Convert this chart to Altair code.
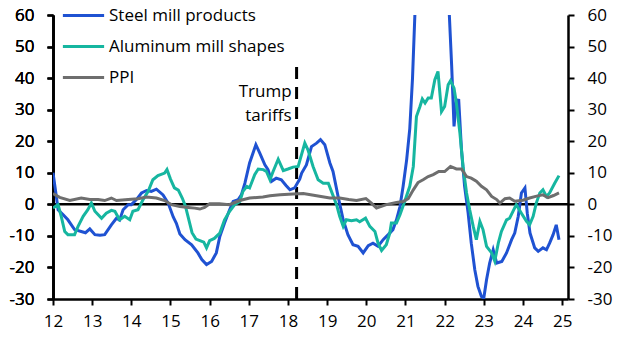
import altair as alt
import pandas as pd

# ---------------- data ----------------
series_names = ["Steel mill products", "Aluminum mill shapes", "PPI"]
series_colors = ["#1f52d2", "#16b6a0", "#6e6e6e"]

steel_x = [2012.00, 2012.08, 2012.13, 2012.26, 2012.38, 2012.55, 2012.72, 2012.83, 2012.94, 2013.07,
           2013.20, 2013.32, 2013.49, 2013.62, 2013.70, 2013.79, 2013.92, 2014.00, 2014.13, 2014.26,
           2014.39, 2014.51, 2014.64, 2014.81, 2014.94, 2015.07, 2015.15, 2015.24, 2015.37, 2015.54,
           2015.70, 2015.80, 2015.92, 2016.05, 2016.17, 2016.26, 2016.38, 2016.51, 2016.60, 2016.73,
           2016.81, 2016.90, 2017.02, 2017.18, 2017.28, 2017.41, 2017.49, 2017.58, 2017.70, 2017.83,
           2017.95, 2018.05, 2018.17, 2018.30, 2018.35, 2018.47, 2018.60, 2018.73, 2018.83, 2018.94,
           2019.07, 2019.15, 2019.28, 2019.41, 2019.53, 2019.66, 2019.79, 2019.92, 2020.05, 2020.17,
           2020.30, 2020.43, 2020.56, 2020.68, 2020.77, 2020.86, 2020.94, 2021.03, 2021.11, 2021.18,
           2021.24, 2021.35, 2021.50, 2021.65, 2021.80, 2021.95, 2022.05, 2022.12, 2022.18, 2022.24,
           2022.30, 2022.36, 2022.43, 2022.51, 2022.60, 2022.68, 2022.77, 2022.85, 2022.94, 2023.00,
           2023.07, 2023.15, 2023.24, 2023.33, 2023.46, 2023.58, 2023.71, 2023.79, 2023.88, 2023.96,
           2024.05, 2024.11, 2024.18, 2024.30, 2024.39, 2024.51, 2024.60, 2024.68, 2024.77, 2024.85,
           2024.92]
steel_y = [10.0, 3.0, -1.7, -3.3, -4.9, -8.0, -8.6, -9.0, -7.8, -9.6,
           -9.8, -9.6, -6.5, -4.4, -5.0, -1.7, -0.1, -0.1, 1.5, 3.6,
           4.4, 4.1, 4.8, 3.0, 0.4, -4.0, -6.0, -9.4, -11.2, -12.8,
           -15.4, -17.5, -19.1, -18.1, -15.4, -10.2, -5.9, -1.7, 0.9, 1.5,
           3.0, 6.7, 13.1, 18.9, 16.2, 12.5, 11.0, 7.3, 8.3, 7.8,
           6.0, 4.6, 5.2, 8.0, 9.9, 12.5, 18.3, 19.4, 20.5, 18.9,
           13.1, 10.4, 2.5, -4.9, -9.6, -12.8, -13.3, -15.4, -13.1, -12.3,
           -13.3, -11.2, -9.6, -8.0, -4.9, -0.7, 5.7, 14.1, 24.0, 40.0,
           60.0, 85.0, 110.0, 122.0, 115.0, 95.0, 75.0, 60.0, 43.7, 24.7,
           33.1, 33.0, 17.3, 5.7, -2.8, -12.3, -20.7, -26.0, -29.2, -29.7,
           -23.9, -18.6, -14.4, -18.6, -18.1, -15.4, -11.2, -9.1, -3.8, 3.6,
           5.2, -2.8, -9.1, -13.8, -14.9, -13.8, -14.4, -12.3, -9.6, -6.5,
           -11.2]

alu_x = [2012.00, 2012.13, 2012.21, 2012.30, 2012.38, 2012.55, 2012.64, 2012.77, 2012.89, 2012.98,
         2013.07, 2013.24, 2013.36, 2013.49, 2013.58, 2013.70, 2013.83, 2013.96, 2014.04, 2014.17,
         2014.30, 2014.43, 2014.55, 2014.68, 2014.85, 2014.91, 2015.00, 2015.10, 2015.20, 2015.30,
         2015.38, 2015.45, 2015.55, 2015.65, 2015.75, 2015.85, 2015.92, 2016.00, 2016.12, 2016.26,
         2016.38, 2016.51, 2016.64, 2016.77, 2016.85, 2016.95, 2017.02, 2017.15, 2017.24, 2017.37,
         2017.45, 2017.54, 2017.62, 2017.75, 2017.88, 2018.00, 2018.13, 2018.26, 2018.43, 2018.51,
         2018.64, 2018.77, 2018.90, 2019.03, 2019.11, 2019.24, 2019.32, 2019.41, 2019.49, 2019.62,
         2019.75, 2019.83, 2019.98, 2020.09, 2020.22, 2020.30, 2020.39, 2020.51, 2020.60, 2020.64,
         2020.77, 2020.86, 2020.98, 2021.11, 2021.20, 2021.28, 2021.37, 2021.43, 2021.50, 2021.58,
         2021.66, 2021.75, 2021.83, 2021.92, 2022.00, 2022.09, 2022.15, 2022.24, 2022.30, 2022.39,
         2022.47, 2022.56, 2022.64, 2022.73, 2022.81, 2022.90, 2022.98, 2023.07, 2023.20, 2023.28,
         2023.37, 2023.45, 2023.58, 2023.66, 2023.83, 2023.96, 2024.09, 2024.17, 2024.26, 2024.34,
         2024.43, 2024.51, 2024.60, 2024.68, 2024.81, 2024.92]
alu_y = [-1.2, -0.1, -3.8, -8.6, -9.6, -9.6, -7.0, -3.8, -1.7, 0.4,
         -2.2, -4.4, -2.8, -1.9, -2.2, -4.9, -3.8, -4.9, -2.2, -1.7,
         1.5, 4.1, 7.8, 9.1, 9.9, 11.0, 8.0, 5.2, 4.5, 2.0,
         -0.5, -4.0, -9.0, -11.0, -11.5, -12.0, -13.8, -11.5, -10.8, -9.1,
         -4.9, -2.2, -0.1, 0.9, 4.1, 5.7, 5.2, 9.4, 11.2, 11.0,
         10.4, 7.8, 10.4, 14.3, 10.7, 11.2, 11.8, 12.0, 19.4, 17.3,
         12.0, 7.8, 6.7, 6.7, 4.1, -0.1, -3.8, -7.0, -4.9, -5.2,
         -4.9, -5.5, -4.4, -7.0, -8.6, -12.3, -14.6, -12.8, -9.1, -5.9,
         -5.9, -3.3, 0.9, 5.7, 12.0, 27.8, 31.0, 33.4, 32.1, 33.7,
         33.7, 39.5, 42.1, 29.4, 31.0, 37.9, 39.2, 36.8, 32.1, 22.6,
         12.0, 3.6, -1.7, -7.0, -11.2, -5.4, -8.0, -13.3, -15.4, -18.0,
         -12.3, -8.6, -4.9, -4.4, -0.1, -2.8, -5.4, -6.5, -3.8, 0.4,
         3.6, 4.6, 2.5, 3.6, 6.7, 9.1]

ppi_x = [2012.00, 2012.17, 2012.43, 2012.72, 2012.94, 2013.15, 2013.32, 2013.49, 2013.62, 2013.92,
         2014.17, 2014.39, 2014.64, 2014.85, 2015.02, 2015.24, 2015.45, 2015.62, 2015.75, 2015.87,
         2016.00, 2016.25, 2016.50, 2016.77, 2017.02, 2017.36, 2017.54, 2017.80, 2018.13, 2018.39,
         2018.73, 2019.07, 2019.32, 2019.55, 2019.75, 2019.99, 2020.13, 2020.26, 2020.51, 2020.77,
         2020.94, 2021.07, 2021.20, 2021.32, 2021.45, 2021.58, 2021.71, 2021.85, 2022.00, 2022.15,
         2022.30, 2022.43, 2022.56, 2022.68, 2022.81, 2022.94, 2023.07, 2023.20, 2023.33, 2023.41,
         2023.54, 2023.66, 2023.79, 2024.00, 2024.17, 2024.35, 2024.51, 2024.64, 2024.78, 2024.92]
ppi_y = [3.4, 2.2, 1.2, 2.0, 1.5, 1.5, 1.2, 2.0, 1.2, 1.5,
         1.8, 2.3, 2.0, 1.2, -0.1, -0.7, -1.0, -1.2, -1.5, -1.0,
         0.2, 0.2, -0.1, 1.2, 2.0, 2.3, 2.7, 3.0, 3.3, 3.4,
         2.7, 2.0, 2.0, 1.5, 1.2, 1.8, 0.4, -1.2, -0.1, 0.6,
         0.9, 1.8, 4.6, 6.9, 7.8, 8.8, 9.4, 10.4, 10.4, 12.0,
         11.2, 11.2, 8.8, 8.3, 7.3, 5.7, 4.6, 2.5, 1.5, 0.4,
         1.8, 2.0, 1.0, 1.3, 2.0, 2.6, 3.0, 2.1, 2.8, 3.6]

y_ticks = [-30, -20, -10, 0, 10, 20, 30, 40, 50, 60]
x_ticks = list(range(2012, 2026))
tariff_x = [2018.22]
tariff_y_top = [43.6]
tariff_label = ["Trump\ntariffs"]
tariff_label_y = [38.2]

# ---------------- frames ----------------
frames = []
for name, xs, ys in zip(series_names, [steel_x, alu_x, ppi_x], [steel_y, alu_y, ppi_y]):
    frames.append(pd.DataFrame({"year": xs, "value": ys, "series": name}))
lines_df = pd.concat(frames, ignore_index=True)

FONT = "Open Sans"
FS = 17
x_scale = alt.Scale(domain=[2012, 2025.15], nice=False, zero=False)
y_scale = alt.Scale(domain=[-30, 60], nice=False, zero=False)

minus_expr = "datum.value < 0 ? '-' + abs(datum.value) : '' + datum.value"

def y_axis(orient):
    return alt.Axis(orient=orient, values=y_ticks, labelExpr=minus_expr, title=None,
                    grid=False, domain=True, domainColor="black", domainWidth=2.5,
                    ticks=True, tickColor="black", tickWidth=2, tickSize=6,
                    labelFont=FONT, labelFontSize=FS, labelColor="black",
                    labelPadding=13)

x_axis = alt.Axis(values=x_ticks, labelExpr="substring(toString(datum.value), 2)",
                  title=None, grid=False, domain=True, domainColor="black", domainWidth=2.5,
                  ticks=True, tickColor="black", tickWidth=2, tickSize=6,
                  labelFont=FONT, labelFontSize=FS, labelColor="black", labelPadding=8,
                  labelFlush=False)

zero_df = pd.DataFrame({"v": [0]})
zero = alt.Chart(zero_df).mark_rule(color="black", strokeWidth=2.5).encode(
    y=alt.Y("v:Q", scale=y_scale, axis=y_axis("right")))

tariff_df = pd.DataFrame({"x": tariff_x, "y0": [-30], "y1": tariff_y_top,
                          "label": tariff_label, "ly": tariff_label_y})
dash = alt.Chart(tariff_df).mark_rule(color="black", strokeWidth=3, strokeDash=[12, 8]).encode(
    x=alt.X("x:Q", scale=x_scale, axis=x_axis),
    y=alt.Y("y0:Q", scale=y_scale, axis=y_axis("left")),
    y2="y1:Q")

label = alt.Chart(tariff_df).mark_text(align="right", baseline="top", dx=-5, lineBreak="\n",
                                       lineHeight=24, font=FONT, fontSize=FS, color="black").encode(
    x=alt.X("x:Q", scale=x_scale, axis=x_axis),
    y=alt.Y("ly:Q", scale=y_scale, axis=y_axis("left")),
    text="label:N")

lines = alt.Chart(lines_df).mark_line(strokeWidth=3, clip=True).encode(
    x=alt.X("year:Q", scale=x_scale, axis=x_axis),
    y=alt.Y("value:Q", scale=y_scale, axis=y_axis("left")),
    color=alt.Color("series:N", scale=alt.Scale(domain=series_names, range=series_colors),
                    legend=alt.Legend(title=None, orient="none", legendX=8, legendY=-22,
                                      symbolType="stroke", symbolSize=1700, symbolStrokeWidth=3,
                                      labelFont=FONT, labelFontSize=FS, labelColor="black",
                                      labelOffset=3, rowPadding=-12, labelLimit=0)),
    order=alt.Order("year:Q"))

chart = alt.layer(zero, dash, label, lines).resolve_axis(y="independent").properties(
    width=515, height=284,
    autosize=alt.AutoSizeParams(type="none"),
    padding={"left": 53, "top": 15, "right": 60, "bottom": 54},
    background="white",
).configure_view(stroke=None)

chart.save("out.html", embed_options={"renderer": "svg", "actions": False})
